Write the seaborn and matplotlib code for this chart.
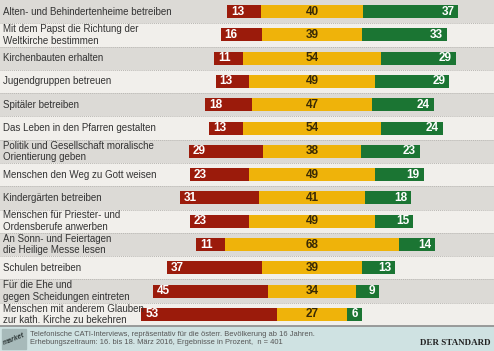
import numpy as np
import pandas as pd
import matplotlib
matplotlib.use("Agg")
from matplotlib import pyplot as plt
from matplotlib.patches import Rectangle
import seaborn as sns

# Aufgaben der Kirche: Anteil "nein" (rot), "teils" (gelb), "ja" (grün)
kategorien = [
    "Alten- und Behindertenheime betreiben",
    "Mit dem Papst die Richtung der\nWeltkirche bestimmen",
    "Kirchenbauten erhalten",
    "Jugendgruppen betreuen",
    "Spitäler betreiben",
    "Das Leben in den Pfarren gestalten",
    "Politik und Gesellschaft moralische\nOrientierung geben",
    "Menschen den Weg zu Gott weisen",
    "Kindergärten betreiben",
    "Menschen für Priester- und\nOrdensberufe anwerben",
    "An Sonn- und Feiertagen\ndie Heilige Messe lesen",
    "Schulen betreiben",
    "Für die Ehe und\ngegen Scheidungen eintreten",
    "Menschen mit anderem Glauben\nzur kath. Kirche zu bekehren",
]
rot = [13, 16, 11, 13, 18, 13, 29, 23, 31, 23, 11, 37, 45, 53]
gelb = [40, 39, 54, 49, 47, 54, 38, 49, 41, 49, 68, 39, 34, 27]
gruen = [37, 33, 29, 29, 24, 24, 23, 19, 18, 15, 14, 13, 9, 6]

fussnote = ("Telefonische CATI-Interviews, repräsentativ für die österr. Bevölkerung ab 16 Jahren.\n"
            "Erhebungszeitraum: 16. bis 18. März 2016, Ergebnisse in Prozent,  n = 401")

ROT = "#9b1b0b"
GELB = "#efb30a"
GRUEN = "#1b7533"
BAND_DUNKEL = "#dcdad6"
BAND_HELL = "#f1efeb"

sns.set_style("white")
plt.rcParams["font.family"] = ["Liberation Sans", "DejaVu Sans"]

df = pd.DataFrame({"kat": kategorien, "rot": rot, "gelb": gelb, "gruen": gruen})
# Balken sind um die Mitte des gelben Segments zentriert
df["halb"] = df["gelb"] / 2
df["halb_neg"] = -df["halb"]
df["links"] = -(df["halb"] + df["rot"])
df["rechts"] = df["halb"] + df["gruen"]

W, H = 494, 351
fig = plt.figure(figsize=(W / 100, H / 100), dpi=100)
fig.patch.set_facecolor(BAND_HELL)

fuss_h = 25 / H
ax = fig.add_axes([0, fuss_h, 1, 1 - fuss_h])

n = len(df)
for i in range(n):
    ax.axhspan(i - 0.5, i + 0.5, color=BAND_DUNKEL if i % 2 == 0 else BAND_HELL, lw=0, zorder=0)
    if i > 0:
        ax.axhline(i - 0.5, color="#b9b7b3", lw=0.7, ls=(0, (1, 1)), zorder=0.5)

breite = 0.56
kw = dict(y="kat", orient="h", width=breite, saturation=1, linewidth=0, errorbar=None, ax=ax)
sns.barplot(data=df, x="rechts", color=GRUEN, **kw)
sns.barplot(data=df, x="links", color=ROT, **kw)
sns.barplot(data=df, x="halb", color=GELB, **kw)
sns.barplot(data=df, x="halb_neg", color=GELB, **kw)

ax.set_xlim(-312 / 2.567, (W - 312) / 2.567)
ax.set_ylim(n - 0.5, -0.5)
ax.axis("off")

pad = 1.5
for i, r in df.iterrows():
    ax.text(r["links"] + pad, i, str(r["rot"]), ha="left", va="center",
            color="white", fontsize=8.5, fontweight="bold")
    ax.text(0, i, str(r["gelb"]), ha="center", va="center",
            color="#3a2a05", fontsize=8.5, fontweight="bold")
    ax.text(r["rechts"] - pad, i, str(r["gruen"]), ha="right", va="center",
            color="white", fontsize=8.5, fontweight="bold")
    ax.text(3 / W, i, r["kat"], transform=ax.get_yaxis_transform(),
            ha="left", va="center", color="#333333", fontsize=7, linespacing=1.2)

# Fußzeile
fig.patches.append(Rectangle((0, 0), 1, fuss_h, transform=fig.transFigure,
                             color="#cfe2e2", zorder=0))
fig.add_artist(plt.Line2D([0, 1], [fuss_h, fuss_h], transform=fig.transFigure,
                          color="#8c8c8c", lw=1.2))
fig.patches.append(Rectangle((2 / W, 2 / H), 24 / W, 20 / H, transform=fig.transFigure,
                             color="#a7baba", zorder=1))
fig.text(14 / W, 12 / H, "market", rotation=22, ha="center", va="center",
         fontsize=5, style="italic", fontweight="bold", color="#2f3a3a")
fig.text(30 / W, 12.5 / H, fussnote, ha="left", va="center", fontsize=5.4,
         color="#555555", linespacing=1.15)
fig.text(491 / W, 6 / H, "DER STANDARD", ha="right", va="baseline",
         fontsize=6.5, fontweight="bold", color="#222222",
         family=["Liberation Serif", "DejaVu Serif"])

fig.savefig("out.png", dpi=100, facecolor=fig.get_facecolor())
